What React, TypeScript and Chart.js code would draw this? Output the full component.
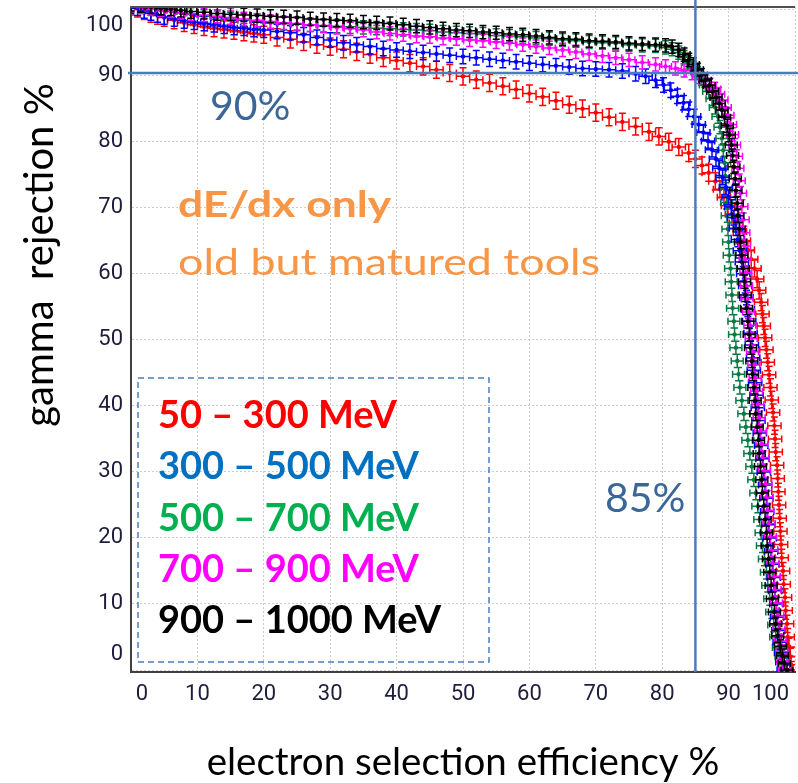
import React, { useEffect, useRef } from 'react';
import { Chart, registerables } from 'chart.js';

Chart.register(...registerables);

// ---------- axes ----------
const X_TICKS = [0, 10, 20, 30, 40, 50, 60, 70, 80, 90, 100];
const Y_TICKS = [0, 10, 20, 30, 40, 50, 60, 70, 80, 90, 100];
const X_TITLE = 'electron selection efficiency %';
const Y_TITLE = 'gamma  rejection %';

// ---------- series ----------
const SERIES_NAMES = ['50 – 300 MeV', '300 – 500 MeV', '500 – 700 MeV', '700 – 900 MeV', '900 – 1000 MeV'];
const SERIES_COLORS = ['#ff0000', '#0000ff', '#0a7a44', '#ff00ff', '#000000'];
const LEGEND_COLORS = ['#ff0000', '#0070c0', '#00b050', '#ff00ff', '#000000'];
const X_ERR = [1.0, 1.0, 0.9, 0.9, 0.9];
const Y_ERR = [1.3, 1.1, 1.0, 1.0, 1.0];
const DRAW_ORDER = [4, 2, 3, 1, 0];

// [efficiency %, rejection %]
const RED = [
  [0, 100.5], [1, 100.2], [2, 99.8], [3, 99.4], [4, 99.1], [5, 98.8], [6.5, 98.4], [8, 98.0], [9.5, 97.7], [11, 97.4],
  [12.5, 97.2], [14, 97.0], [15.5, 96.8], [17, 96.6], [18.5, 96.4], [20, 96.2], [22, 95.8], [24, 95.5], [26, 95.1], [28, 94.7],
  [30, 94.4], [32, 94.0], [34, 93.6], [36, 93.2], [38, 92.7], [40, 92.3], [42, 91.9], [44, 91.4], [46, 90.9], [48, 90.4],
  [50, 89.9], [52, 89.4], [54, 88.9], [56, 88.4], [58, 87.9], [60, 87.3], [62, 86.8], [64, 86.2], [66, 85.6], [68, 85.0],
  [70, 84.4], [72, 83.7], [74, 83.0], [76, 82.3], [78, 81.5], [79.5, 80.8], [81, 80.0], [82.5, 79.2], [84, 78.3], [85, 77.4],
  [86, 76.4], [87, 75.3], [88, 74.0], [88.7, 72.8], [89.3, 71.6], [89.9, 70.3], [90.5, 69.0], [91.1, 67.7], [91.7, 66.4], [92.3, 65.0],
  [92.9, 63.6], [93.4, 62.2], [93.9, 60.8], [94.3, 59.2], [94.6, 57.5], [94.9, 55.7], [95.1, 53.9], [95.3, 52.1], [95.5, 50.3], [95.7, 48.5],
  [95.9, 46.6], [96.1, 44.7], [96.3, 42.8], [96.5, 40.9], [96.7, 39.0], [96.9, 37.0], [97.0, 35.0], [97.1, 33.0], [97.3, 31.0], [97.4, 29.0],
  [97.5, 27.0], [97.6, 25.0], [97.7, 23.0], [97.8, 21.0], [97.9, 19.0], [98.0, 17.0], [98.2, 15.0], [98.3, 13.0], [98.5, 11.0], [98.6, 9.0],
  [98.8, 7.0], [98.9, 5.0], [99.1, 3.5], [99.3, 2.0], [99.4, 0.8], [99.5, 0.0],
];

const BLUE = [
  [0, 100.5], [1, 100.2], [2, 99.8], [3, 99.5], [4, 99.2], [5, 98.9], [6.5, 98.6], [8, 98.3], [9.5, 98.1], [11, 97.9],
  [12.5, 97.7], [14, 97.5], [15.5, 97.3], [17, 97.2], [18.5, 97.0], [20, 96.9], [22, 96.7], [24, 96.5], [26, 96.2], [28, 95.8],
  [30, 95.4], [32, 95.0], [34, 94.7], [36, 94.4], [38, 94.1], [40, 93.9], [42, 93.7], [44, 93.5], [46, 93.3], [48, 93.1],
  [50, 92.9], [52, 92.7], [54, 92.5], [56, 92.3], [58, 92.1], [60, 91.9], [62, 91.7], [64, 91.5], [66, 91.3], [68, 91.1],
  [70, 91.0], [72, 90.9], [74, 90.7], [76, 90.3], [77.5, 89.9], [79, 89.3], [80.2, 88.6], [81.3, 87.8], [82.3, 86.9], [83.2, 85.9],
  [84.0, 84.9], [84.8, 83.8], [85.5, 82.6], [86.2, 81.4], [86.9, 80.1], [87.5, 78.8], [88.1, 77.4], [88.6, 76.0], [89.1, 74.6], [89.6, 73.1],
  [90.0, 71.6], [90.4, 70.1], [90.8, 68.5], [91.1, 66.9], [91.4, 65.2], [91.7, 63.5], [92.0, 61.8], [92.2, 60.0], [92.5, 58.2], [92.7, 56.4],
  [92.9, 54.6], [93.1, 52.8], [93.3, 51.0], [93.5, 49.2], [93.7, 47.3], [93.8, 45.4], [94.0, 43.5], [94.2, 41.6], [94.4, 39.7], [94.5, 37.8],
  [94.7, 35.9], [94.9, 34.0], [95.1, 32.0], [95.3, 30.0], [95.5, 28.0], [95.7, 26.0], [95.8, 24.0], [96.0, 22.0], [96.2, 20.0], [96.4, 18.0],
  [96.6, 16.0], [96.8, 14.0], [97.0, 12.0], [97.2, 10.0], [97.3, 8.0], [97.5, 6.0], [97.7, 4.2], [97.9, 2.6], [98.1, 1.2], [98.3, 0.0],
];

const GREEN = [
  [0, 100.6], [1.5, 100.4], [3, 100.1], [4.5, 99.9], [6, 99.7], [7.5, 99.5], [9, 99.3], [11, 99.0], [13, 98.8], [15, 98.6],
  [17, 98.4], [19, 98.2], [21, 98.0], [23, 97.9], [25, 97.8], [27, 97.7], [29, 97.6], [31, 97.5], [33, 97.4], [35, 97.3],
  [37, 97.2], [39, 97.1], [41, 97.0], [43, 96.9], [45, 96.8], [47, 96.6], [49, 96.5], [51, 96.4], [53, 96.3], [55, 96.1],
  [57, 96.0], [59, 95.9], [61, 95.7], [63, 95.6], [65, 95.4], [67, 95.3], [69, 95.1], [71, 95.0], [73, 94.9], [75, 94.7],
  [77, 94.6], [79, 94.5], [80.5, 94.3], [81.5, 94.0], [82.5, 93.5], [83.3, 92.8], [84, 92.0], [84.7, 91.2], [85.3, 90.4], [85.9, 89.5],
  [86.5, 88.6], [87.0, 87.6], [87.5, 86.5], [88.0, 85.2], [88.4, 83.8], [88.7, 82.2], [89.0, 80.5], [89.2, 78.7], [89.4, 76.8], [89.5, 74.8],
  [89.6, 72.8], [89.7, 70.8], [89.8, 68.8], [89.9, 66.8], [90.0, 64.8], [90.1, 62.8], [90.3, 60.8], [90.4, 58.8], [90.5, 56.8], [90.6, 54.8],
  [90.8, 52.8], [90.9, 50.8], [91.1, 48.8], [91.3, 46.8], [91.5, 44.8], [91.7, 42.8], [92.0, 40.8], [92.3, 38.8], [92.6, 36.8], [92.9, 34.8],
  [93.2, 32.8], [93.5, 30.8], [93.8, 28.8], [94.1, 26.8], [94.4, 24.8], [94.7, 22.8], [94.9, 20.8], [95.1, 18.8], [95.4, 16.8], [95.7, 14.8],
  [95.9, 12.8], [96.2, 10.8], [96.5, 8.8], [96.8, 6.8], [97.1, 5.0], [97.5, 3.4], [97.9, 2.0], [98.3, 0.8], [98.6, 0.0],
];

const MAGENTA = [
  [0, 100.7], [1.5, 100.4], [3, 100.2], [4.5, 100.0], [6, 99.8], [7.5, 99.6], [9, 99.4], [11, 99.2], [13, 99.0], [15, 98.8],
  [17, 98.6], [19, 98.4], [21, 98.2], [23, 98.0], [25, 97.9], [27, 97.7], [29, 97.5], [31, 97.3], [33, 97.1], [35, 96.9],
  [37, 96.6], [39, 96.4], [41, 96.2], [43, 96.0], [45, 95.9], [47, 95.7], [49, 95.6], [51, 95.4], [53, 95.3], [55, 95.1],
  [57, 94.9], [59, 94.7], [61, 94.4], [63, 94.2], [65, 93.9], [67, 93.6], [69, 93.3], [71, 93.0], [73, 92.7], [75, 92.4],
  [77, 92.0], [79, 91.7], [80.5, 91.4], [82, 91.1], [83.3, 90.8], [84.5, 90.4], [85.5, 89.8], [86.4, 89.2], [87.2, 88.6], [87.9, 88.0],
  [88.5, 87.2], [89.0, 86.3], [89.5, 85.2], [89.9, 84.0], [90.3, 82.6], [90.6, 81.1], [90.9, 79.5], [91.2, 77.8], [91.4, 76.0], [91.6, 74.1],
  [91.8, 72.2], [92.0, 70.2], [92.2, 68.2], [92.3, 66.2], [92.4, 64.2], [92.5, 62.2], [92.6, 60.2], [92.7, 58.2], [92.8, 56.2], [93.0, 54.2],
  [93.2, 52.2], [93.4, 50.2], [93.6, 48.2], [93.8, 46.2], [94.0, 44.2], [94.2, 42.2], [94.4, 40.2], [94.6, 38.2], [94.8, 36.2], [95.0, 34.2],
  [95.2, 32.2], [95.4, 30.2], [95.6, 28.2], [95.8, 26.2], [95.9, 24.2], [96.1, 22.2], [96.3, 20.2], [96.5, 18.2], [96.7, 16.2], [96.9, 14.2],
  [97.0, 12.2], [97.2, 10.2], [97.4, 8.2], [97.6, 6.2], [97.8, 4.4], [98.0, 2.8], [98.2, 1.4], [98.4, 0.2],
];

const BLACK = [
  [0, 100.8], [1.5, 100.6], [3, 100.4], [4.5, 100.2], [6, 100.1], [7.5, 99.9], [9, 99.7], [11, 99.6], [13, 99.4], [15, 99.3],
  [17, 99.2], [19, 99.1], [21, 99.0], [23, 98.9], [25, 98.8], [27, 98.6], [29, 98.5], [31, 98.4], [33, 98.3], [35, 98.1],
  [37, 98.0], [39, 97.9], [41, 97.7], [43, 97.5], [45, 97.3], [47, 97.1], [49, 96.9], [51, 96.8], [53, 96.6], [55, 96.5],
  [57, 96.3], [59, 96.2], [61, 96.0], [63, 95.8], [65, 95.6], [67, 95.5], [69, 95.3], [71, 95.2], [73, 95.1], [75, 94.9],
  [77, 94.8], [79, 94.7], [80.5, 94.6], [81.5, 94.4], [82.5, 93.9], [83.3, 93.2], [84, 92.4], [84.7, 91.7], [85.3, 90.9], [85.9, 90.1],
  [86.5, 89.3], [87.1, 88.5], [87.6, 87.6], [88.1, 86.7], [88.6, 85.8], [89.0, 84.8], [89.4, 83.7], [89.8, 82.4], [90.1, 81.0], [90.4, 79.5],
  [90.6, 77.9], [90.8, 76.2], [91.0, 74.4], [91.1, 72.6], [91.3, 70.7], [91.4, 68.8], [91.6, 66.8], [91.8, 64.8], [92.0, 62.8], [92.2, 60.8],
  [92.4, 58.8], [92.5, 56.8], [92.7, 54.8], [92.9, 52.8], [93.1, 50.8], [93.3, 48.8], [93.5, 46.8], [93.6, 44.8], [93.8, 42.8], [94.0, 40.8],
  [94.1, 38.8], [94.3, 36.8], [94.5, 34.8], [94.6, 32.8], [94.8, 30.8], [95.0, 28.8], [95.1, 26.8], [95.3, 24.8], [95.5, 22.8], [95.7, 20.8],
  [95.8, 18.8], [96.0, 16.8], [96.2, 14.8], [96.4, 12.8], [96.6, 10.8], [96.9, 8.8], [97.1, 7.0], [97.4, 5.2], [97.8, 3.6], [98.1, 2.2],
  [98.4, 1.0], [98.8, 0.0],
];

const SERIES = [RED, BLUE, GREEN, MAGENTA, BLACK];

// ---------- annotations ----------
const CUT_X = 85;
const CUT_Y = 90.4;
const CUT_X_LABEL = '85%';
const CUT_Y_LABEL = '90%';
const NOTE_BOLD = 'dE/dx only';
const NOTE_PLAIN = 'old but matured tools';
const LINE_BLUE = '#4a7ebb';
const LABEL_BLUE = '#3b6698';
const ORANGE = '#f79646';
const FONT = 'Lato, "Open Sans", sans-serif';

function drawText(ctx: CanvasRenderingContext2D, text: string, x: number, y: number, font: string, color: string, stretch = 1) {
  ctx.save();
  ctx.translate(x, y);
  ctx.scale(stretch, 1);
  ctx.font = font;
  ctx.fillStyle = color;
  ctx.textAlign = 'left';
  ctx.textBaseline = 'alphabetic';
  ctx.fillText(text, 0, 0);
  ctx.restore();
}

const errorBarPlugin = {
  id: 'errorBars',
  beforeDatasetDraw(chart: any, args: any) {
    const ds = chart.data.datasets[args.index];
    const { ctx, chartArea: a } = chart;
    const xs = chart.scales.x;
    const ys = chart.scales.y;
    const cap = 3.5;
    ctx.save();
    ctx.beginPath();
    ctx.rect(a.left, a.top, a.right - a.left, a.bottom - a.top);
    ctx.clip();
    ctx.strokeStyle = ds.borderColor;
    ctx.lineWidth = 1.5;
    ctx.beginPath();
    for (const p of ds.data) {
      const cx = xs.getPixelForValue(p.x);
      const cy = ys.getPixelForValue(p.y);
      const x0 = xs.getPixelForValue(p.x - ds.errX);
      const x1 = xs.getPixelForValue(p.x + ds.errX);
      const y0 = ys.getPixelForValue(p.y - ds.errY);
      const y1 = ys.getPixelForValue(p.y + ds.errY);
      ctx.moveTo(x0, cy); ctx.lineTo(x1, cy);
      ctx.moveTo(cx, y0); ctx.lineTo(cx, y1);
      ctx.moveTo(cx - cap, y0); ctx.lineTo(cx + cap, y0);
      ctx.moveTo(cx - cap, y1); ctx.lineTo(cx + cap, y1);
      ctx.moveTo(x0, cy - cap); ctx.lineTo(x0, cy + cap);
      ctx.moveTo(x1, cy - cap); ctx.lineTo(x1, cy + cap);
    }
    ctx.stroke();
    ctx.restore();
  },
};

const overlayPlugin = {
  id: 'overlay',
  afterDatasetsDraw(chart: any) {
    const { ctx, chartArea: a } = chart;
    const xs = chart.scales.x;
    const ys = chart.scales.y;
    ctx.save();
    // top frame line
    ctx.strokeStyle = '#505050';
    ctx.lineWidth = 2;
    ctx.beginPath();
    ctx.moveTo(a.left - 1, a.top);
    ctx.lineTo(a.right, a.top);
    ctx.stroke();

    // 85% / 90% cut lines
    const px = xs.getPixelForValue(CUT_X);
    const py = ys.getPixelForValue(CUT_Y);
    ctx.strokeStyle = LINE_BLUE;
    ctx.lineWidth = 2.5;
    ctx.beginPath();
    ctx.moveTo(a.left - 3, py);
    ctx.lineTo(chart.width, py);
    ctx.moveTo(px, 0);
    ctx.lineTo(px, a.bottom);
    ctx.stroke();

    // dashed legend box
    const bx0 = a.left + 7;
    const by0 = 378;
    const bx1 = 489;
    const by1 = 662;
    ctx.strokeStyle = LINE_BLUE;
    ctx.lineWidth = 1.5;
    ctx.setLineDash([6, 4]);
    ctx.strokeRect(bx0, by0, bx1 - bx0, by1 - by0);
    ctx.setLineDash([]);

    // legend entries
    SERIES_NAMES.forEach((name, i) => {
      drawText(ctx, name, 158, 428 + i * 51.3, `bold 38px ${FONT}`, LEGEND_COLORS[i]);
    });

    // notes
    drawText(ctx, NOTE_BOLD, 178, 217, `bold 37px ${FONT}`, ORANGE, 1.2);
    drawText(ctx, NOTE_PLAIN, 178, 275, `37px ${FONT}`, ORANGE, 1.21);
    drawText(ctx, CUT_Y_LABEL, 210, 120, `41px ${FONT}`, LABEL_BLUE);
    drawText(ctx, CUT_X_LABEL, 605, 512, `41px ${FONT}`, LABEL_BLUE);

    // y axis title
    ctx.save();
    ctx.translate(40, 255);
    ctx.rotate(-Math.PI / 2);
    ctx.font = `40px ${FONT}`;
    ctx.fillStyle = '#000';
    ctx.textAlign = 'center';
    ctx.textBaseline = 'middle';
    ctx.fillText(Y_TITLE, 0, 0);
    ctx.restore();

    ctx.restore();
  },
};

export default function App() {
  const ref = useRef<HTMLCanvasElement>(null);

  useEffect(() => {
    document.body.style.margin = '0';
    const datasets = SERIES.map((pts, i) => ({
      label: SERIES_NAMES[i],
      data: pts.map(([x, y]) => ({ x, y })),
      showLine: false,
      borderColor: SERIES_COLORS[i],
      backgroundColor: SERIES_COLORS[i],
      pointStyle: 'rect',
      pointRadius: 2,
      pointBorderWidth: 1,
      order: DRAW_ORDER[i],
      errX: X_ERR[i],
      errY: Y_ERR[i],
    }));

    const tickColor = '#1e1e3c';
    const chart = new Chart(ref.current as HTMLCanvasElement, {
      type: 'scatter',
      data: { datasets } as any,
      plugins: [errorBarPlugin, overlayPlugin],
      options: {
        responsive: false,
        animation: false,
        layout: { padding: { top: 7, left: 0, right: 0, bottom: 0 } },
        plugins: { legend: { display: false }, tooltip: { enabled: false } },
        scales: {
          x: {
            type: 'linear',
            min: 0,
            max: 100,
            afterBuildTicks: (s: any) => { s.ticks = X_TICKS.map((v) => ({ value: v })); },
            afterFit: (s: any) => { s.height = 111; s.paddingLeft = 0; s.paddingRight = 0; },
            ticks: {
              autoSkip: false,
              maxRotation: 0,
              padding: 9,
              color: tickColor,
              font: { family: 'Roboto', size: 22 },
              callback: (v: any) => (v === 0 ? '    0' : v === 100 ? '100' + ' '.repeat(9) : String(v)),
            },
            grid: { color: '#cccccc', lineWidth: 1, drawTicks: false },
            border: { display: true, color: '#404040', width: 2, dash: [2, 2] },
            title: {
              display: true,
              text: X_TITLE,
              color: '#000',
              font: { family: 'Lato', size: 38.5, lineHeight: 1 },
              padding: { top: 0, bottom: 1 },
            },
          },
          y: {
            type: 'linear',
            min: -0.3,
            max: 100.4,
            afterBuildTicks: (s: any) => { s.ticks = Y_TICKS.map((v) => ({ value: v })); },
            afterFit: (s: any) => { s.width = 131; s.paddingTop = 0; s.paddingBottom = 0; },
            ticks: {
              padding: 8,
              color: tickColor,
              font: { family: 'Roboto', size: 22, lineHeight: 1.4 },
              callback: (v: any) => (v === 0 ? ['0', ''] : v === 100 ? ['', '100'] : String(v)),
            },
            grid: { color: '#cccccc', lineWidth: 1, drawTicks: false },
            border: { display: true, color: '#404040', width: 2, dash: [2, 2] },
            title: { display: false },
          },
        },
      } as any,
    });
    return () => chart.destroy();
  }, []);

  return (
    <div style={{ width: 798, height: 783, overflow: 'hidden', background: '#fff' }}>
      <canvas ref={ref} width={800} height={783} style={{ display: 'block' }} />
    </div>
  );
}
